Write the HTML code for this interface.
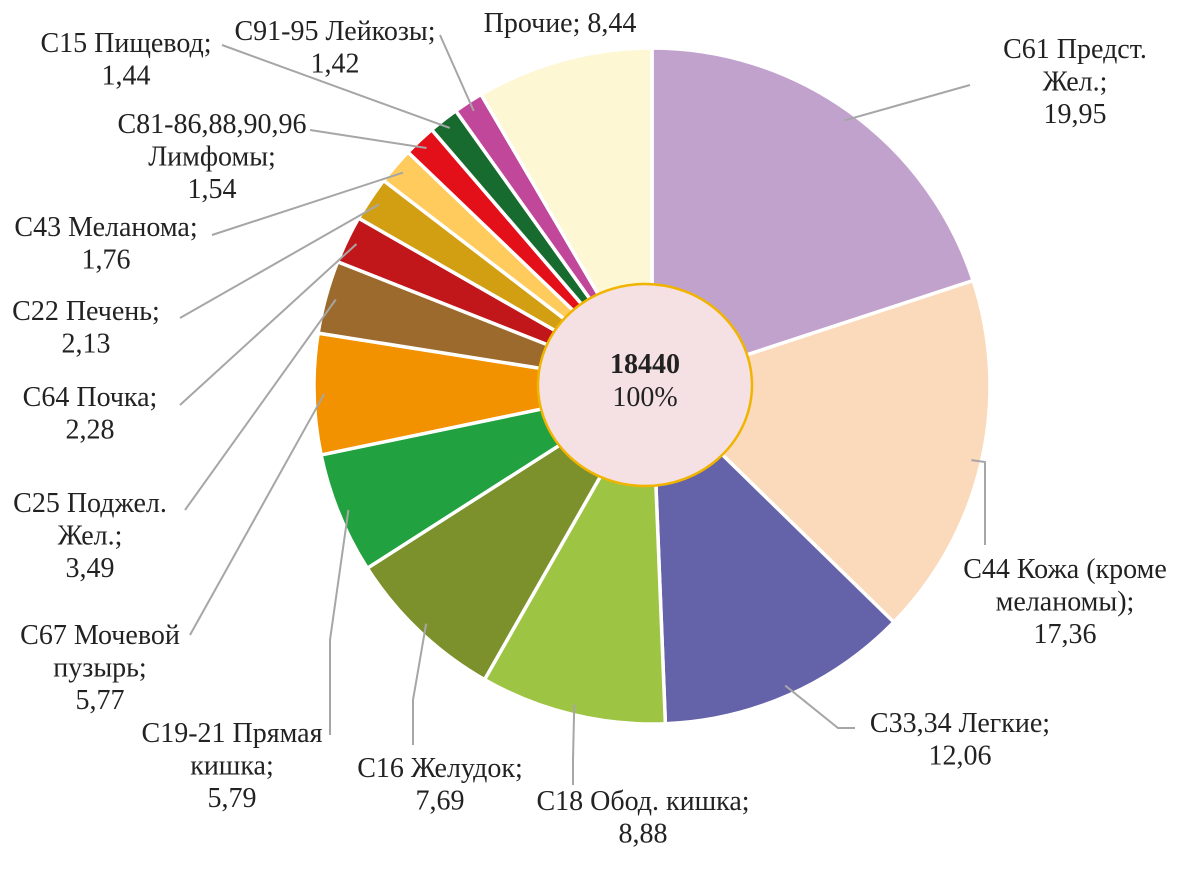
<!DOCTYPE html>
<html><head><meta charset="utf-8">
<style>
html,body{margin:0;padding:0;background:#fff;}
svg text{font-family:"Liberation Serif",serif;font-size:28px;fill:#222;}
</style></head>
<body>
<svg id="chart" width="1181" height="886" viewBox="0 0 1181 886" xmlns="http://www.w3.org/2000/svg">
<g id="slices"></g>
<g id="leaders"></g>
<g id="labels"></g>
<g>
<ellipse cx="645" cy="385" rx="107" ry="101" fill="#f5e1e3" stroke="#f0b400" stroke-width="2.5"/>
<text x="645" y="373" text-anchor="middle" font-weight="bold">18440</text>
<text x="645" y="406" text-anchor="middle">100%</text>
</g>
</svg>
<script>
const categories = ["C61 Предст. Жел.","C44 Кожа (кроме меланомы)","C33,34 Легкие","C18 Обод. кишка","C16 Желудок","C19-21 Прямая кишка","C67 Мочевой пузырь","C25 Поджел. Жел.","C64 Почка","C22 Печень","C43 Меланома","C81-86,88,90,96 Лимфомы","C15 Пищевод","C91-95 Лейкозы","Прочие"];
const values = [19.95,17.36,12.06,8.88,7.69,5.79,5.77,3.49,2.28,2.13,1.76,1.54,1.44,1.42,8.44];
const valueLabels = ["19,95","17,36","12,06","8,88","7,69","5,79","5,77","3,49","2,28","2,13","1,76","1,54","1,44","1,42","8,44"];
const colors = ["#c1a2cd","#fbd9bb","#6462a8","#9ec444","#7c912c","#21a13f","#f39200","#9b6a2c","#c1171a","#d29f12","#ffcb5c","#e3101a","#176b2f","#c0479a","#fdf7d4"];
const layout = [
 {lines:["C61 Предст.","Жел.;","19,95"],x:1075,y:58,elbow:[970,85],end:[970,85]},
 {lines:["C44 Кожа (кроме","меланомы);","17,36"],x:1065,y:578,elbow:[985,462],end:[985,545]},
 {lines:["C33,34 Легкие;","12,06"],x:960,y:732,elbow:[838,728],end:[855,728]},
 {lines:["C18 Обод. кишка;","8,88"],x:643,y:810,elbow:[573,760],end:[573,785]},
 {lines:["C16 Желудок;","7,69"],x:440,y:777,elbow:[413,700],end:[413,745]},
 {lines:["C19-21 Прямая","кишка;","5,79"],x:232,y:742,elbow:[330,640],end:[330,735]},
 {lines:["C67 Мочевой","пузырь;","5,77"],x:100,y:644,elbow:[190,635],end:[190,635]},
 {lines:["C25 Поджел.","Жел.;","3,49"],x:90,y:512,elbow:[185,510],end:[185,510]},
 {lines:["C64 Почка;","2,28"],x:90,y:406,elbow:[180,405],end:[180,405]},
 {lines:["C22 Печень;","2,13"],x:86,y:320,elbow:[180,318],end:[180,318]},
 {lines:["C43 Меланома;","1,76"],x:106,y:236,elbow:[212,235],end:[212,235]},
 {lines:["C81-86,88,90,96","Лимфомы;","1,54"],x:212,y:133,elbow:[310,130],end:[310,130]},
 {lines:["C15 Пищевод;","1,44"],x:126,y:52,elbow:[222,45],end:[222,45]},
 {lines:["C91-95 Лейкозы;","1,42"],x:335,y:40,elbow:[440,35],end:[440,35]},
 {lines:["Прочие; 8,44"],x:560,y:32,elbow:null,end:null}
];
const NS="http://www.w3.org/2000/svg";
const cx=652, cy=386, R=338;
const total=values.reduce((a,b)=>a+b,0);
function angleOf(v){return v/total*2*Math.PI;}
function pt(a,r){return [cx+r*Math.sin(a), cy-r*Math.cos(a)];}
const gS=document.getElementById('slices'), gL=document.getElementById('leaders'), gT=document.getElementById('labels');
let a0=0;
values.forEach((v,i)=>{
  const a1=a0+angleOf(v);
  const p0=pt(a0,R), p1=pt(a1,R);
  const large=(a1-a0)>Math.PI?1:0;
  const p=document.createElementNS(NS,'path');
  p.setAttribute('d',`M${cx},${cy} L${p0[0]},${p0[1]} A${R},${R} 0 ${large} 1 ${p1[0]},${p1[1]} Z`);
  p.setAttribute('fill',colors[i]);
  p.setAttribute('stroke','#fff');
  p.setAttribute('stroke-width','3.5');
  
  
  gS.appendChild(p);
  const L=layout[i];
  if(L.end){
    const m=pt((a0+a1)/2,R*0.97);
    const pl=document.createElementNS(NS,'polyline');
    pl.setAttribute('points',`${m[0]},${m[1]} ${L.elbow[0]},${L.elbow[1]} ${L.end[0]},${L.end[1]}`);
    pl.setAttribute('fill','none');
    pl.setAttribute('stroke','#a6a6a6');
    pl.setAttribute('stroke-width','2');
    
    
    gL.appendChild(pl);
  }
  const t=document.createElementNS(NS,'text');
  t.setAttribute('text-anchor','middle');
  
  
  L.lines.forEach((ln,k)=>{
    const s=document.createElementNS(NS,'tspan');
    s.setAttribute('x',L.x);
    s.setAttribute('y',L.y+k*32.5);
    s.textContent=ln;
    t.appendChild(s);
  });
  gT.appendChild(t);
  a0=a1;
});
</script>
</body></html>
